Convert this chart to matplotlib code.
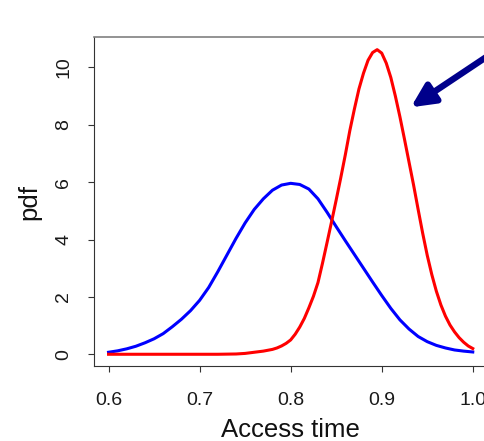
import matplotlib; matplotlib.use('agg')
import matplotlib.pyplot as plt

plt.rcParams['font.family'] = ['Liberation Sans', 'DejaVu Sans']

# blue curve, every 0.01
blue_x = [0.60, 0.61, 0.62, 0.63, 0.64, 0.65, 0.66, 0.67, 0.68, 0.69,
          0.70, 0.71, 0.72, 0.73, 0.74, 0.75, 0.76, 0.77, 0.78, 0.79,
          0.80, 0.81, 0.82, 0.83, 0.84, 0.85, 0.86, 0.87, 0.88, 0.89,
          0.90, 0.91, 0.92, 0.93, 0.94, 0.95, 0.96, 0.97, 0.98, 0.99, 1.00]
blue_y = [0.07, 0.12, 0.19, 0.28, 0.40, 0.54, 0.72, 0.96, 1.22, 1.52,
          1.88, 2.33, 2.88, 3.46, 4.04, 4.58, 5.05, 5.42, 5.72, 5.90,
          5.96, 5.92, 5.76, 5.42, 4.95, 4.45, 3.96, 3.48, 3.00, 2.52,
          2.05, 1.60, 1.20, 0.88, 0.62, 0.44, 0.31, 0.22, 0.15, 0.11, 0.08]

# red curve, denser where it bends
red_x = [0.60, 0.62, 0.64, 0.66, 0.68, 0.70, 0.72, 0.74, 0.75, 0.76,
         0.77, 0.78, 0.785, 0.79, 0.795, 0.80, 0.805, 0.81, 0.815, 0.82,
         0.825, 0.83, 0.835, 0.84, 0.845, 0.85, 0.855, 0.86, 0.865, 0.87,
         0.875, 0.88, 0.885, 0.89, 0.895, 0.90, 0.905, 0.91, 0.915, 0.92,
         0.925, 0.93, 0.935, 0.94, 0.945, 0.95, 0.955, 0.96, 0.965, 0.97,
         0.975, 0.98, 0.985, 0.99, 0.995, 1.00]
red_y = [0.00, 0.00, 0.00, 0.00, 0.00, 0.00, 0.00, 0.01, 0.03, 0.07,
         0.11, 0.17, 0.22, 0.29, 0.38, 0.50, 0.70, 0.95, 1.25, 1.62,
         2.02, 2.50, 3.18, 3.90, 4.63, 5.38, 6.15, 6.95, 7.80, 8.55,
         9.25, 9.80, 10.25, 10.52, 10.62, 10.50, 10.15, 9.65, 9.00, 8.28,
         7.50, 6.70, 5.90, 5.05, 4.22, 3.45, 2.78, 2.20, 1.72, 1.33,
         1.02, 0.78, 0.58, 0.42, 0.29, 0.20]

x_ticks = [0.6, 0.7, 0.8, 0.9, 1.0]
x_ticklabels = ['0.6', '0.7', '0.8', '0.9', '1.0']
y_ticks = [0, 2, 4, 6, 8, 10]

# arrow from off the right edge to the red curve
arrow_start = (1.026, 10.6)
arrow_tip = (0.932, 8.61)

fig = plt.figure(figsize=(4.85, 4.41), dpi=100)
# axes run slightly past the right edge, the original was cropped there
ax = fig.add_axes([0.1938, 0.170, 0.811, 0.746])

ax.plot(blue_x, blue_y, color='#0000FF', lw=2.2)
ax.plot(red_x, red_y, color='#FF0000', lw=2.2)

ax.annotate('', xy=arrow_tip, xytext=arrow_start, annotation_clip=False,
            arrowprops=dict(arrowstyle='-|>,head_length=0.7,head_width=0.34',
                            color='#00008B', lw=4.6, mutation_scale=20,
                            shrinkA=0, shrinkB=0))

ax.set_xlim(0.584, 1.016)
ax.set_ylim(-0.41, 11.06)
ax.set_xticks(x_ticks)
ax.set_xticklabels(x_ticklabels)
ax.set_yticks(y_ticks)

ax.tick_params(axis='both', direction='out', length=4, width=0.8,
               color='#333333', labelsize=14, labelcolor='#1a1a1a')
ax.tick_params(axis='x', pad=14.5)
ax.tick_params(axis='y', pad=11.5, labelrotation=90)
for lab in ax.get_yticklabels():
    lab.set_va('center')

ax.spines['right'].set_visible(False)
ax.spines['top'].set_color('#808080')
ax.spines['top'].set_linewidth(1.2)
ax.spines['left'].set_color('#333333')
ax.spines['bottom'].set_color('#333333')

ax.set_xlabel('Access time', fontsize=18.5, color='#111111', labelpad=7)
ax.set_ylabel('pdf', fontsize=18.5, color='#111111', labelpad=10)

fig.savefig('out.png', dpi=100)
